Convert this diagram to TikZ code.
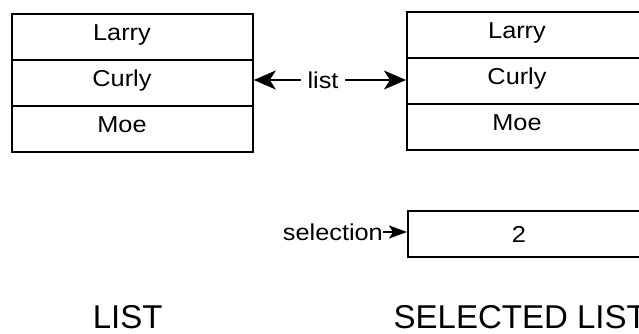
\documentclass[tikz,border=0pt]{standalone}
\usepackage{fontspec}
\setmainfont{Liberation Sans}
\newfontfamily\cellfont[FakeStretch=1.1]{Liberation Sans}
\usetikzlibrary{arrows.meta}
\begin{document}
\begin{tikzpicture}[x=1pt,y=-1pt,
  cell/.style={draw, line width=1.8pt, minimum width=241pt, minimum height=46pt,
               inner sep=0pt, anchor=north west},
  celltext/.style={font=\cellfont\fontsize{23}{27}\selectfont, anchor=base, inner sep=0pt},
  title/.style={font=\fontsize{33}{40}\selectfont, anchor=base west, inner sep=0pt},
  bigtip/.style={-{Stealth[length=22pt,width=19pt,inset=6pt]}, line width=1.8pt},
  smalltip/.style={-{Stealth[length=18pt,width=13pt,inset=4pt]}, line width=1.8pt}]
  \useasboundingbox (0,0) rectangle (639,333);
  \clip (0,0) rectangle (639,333);

  % the list
  \node[cell] (l1) at (11,13)  {};
  \node[cell] (l2) at (11,59)  {};
  \node[cell] (l3) at (11,105) {};
  \node[celltext] (tl1) at (122,40.5)  {Larry};
  \node[celltext] (tl2) at (122,86.5)  {Curly};
  \node[celltext] (tl3) at (122,132.5) {Moe};

  % the selected list
  \node[cell] (r1) at (406,11)  {};
  \node[cell] (r2) at (406,57)  {};
  \node[cell] (r3) at (406,103) {};
  \node[celltext] (tr1) at (517,38.5)  {Larry};
  \node[celltext] (tr2) at (517,84.5)  {Curly};
  \node[celltext] (tr3) at (517,130.5) {Moe};

  % shared list reference
  \node[celltext, anchor=center, inner xsep=6.5pt] (lst) at (323,80) {list};
  \draw[bigtip] (lst.west) -- (lst.west -| l2.east);
  \draw[bigtip] (lst.east) -- (lst.east -| r2.west);

  % selection index
  \node[cell] (sb) at (407,210) {};
  \node[celltext] (two) at (519,242) {2};
  \node[celltext, anchor=east] (sel) at (383,232) {selection};
  \draw[smalltip] (sel.east) -- (sel.east -| sb.west);

  % captions
  \node[title] (t1) at (92.6,328)  {LIST};
  \node[title] (t2) at (393.5,328) {SELECTED LIST};
\end{tikzpicture}
\end{document}
